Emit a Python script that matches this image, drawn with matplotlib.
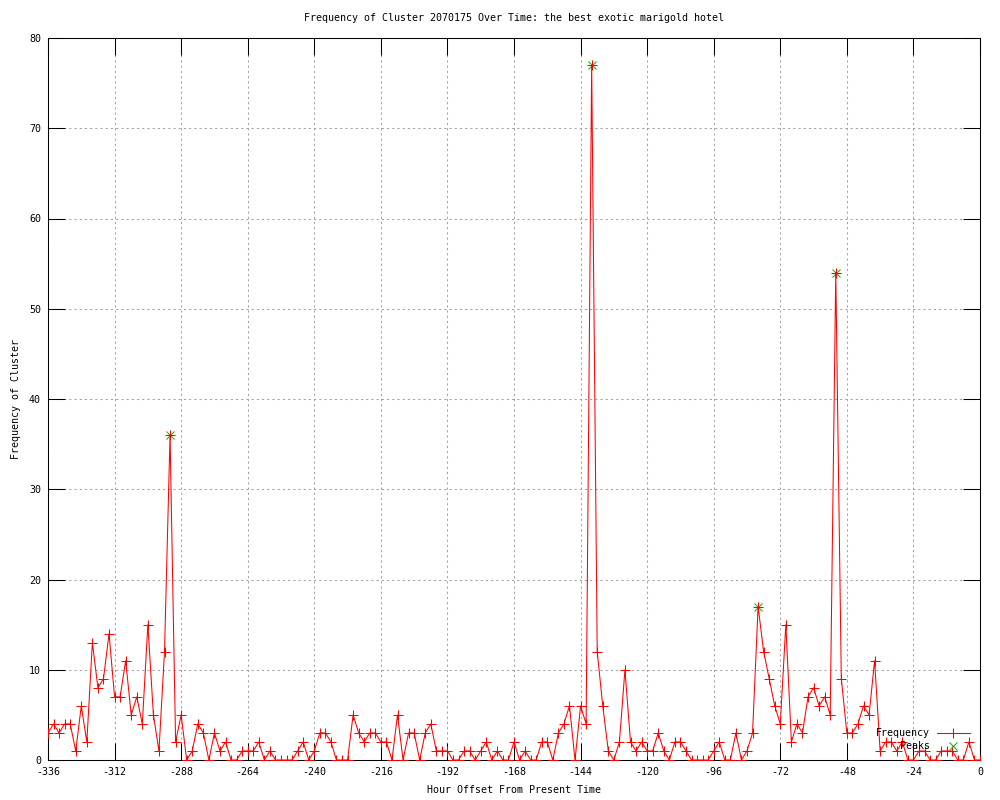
import numpy as np
import matplotlib
matplotlib.use("Agg")
import matplotlib.pyplot as plt

plt.rcParams["axes.unicode_minus"] = False

# ---- data ----
hours = list(range(-336, 1, 2))
frequency = [3, 4, 3, 4, 4, 1, 6, 2, 13, 8, 9, 14, 7, 7, 11, 5, 7, 4, 15, 5,
             1, 12, 36, 2, 5, 0, 1, 4, 3, 0, 3, 1, 2, 0, 0, 1, 1, 1, 2, 0,
             1, 0, 0, 0, 0, 1, 2, 0, 1, 3, 3, 2, 0, 0, 0, 5, 3, 2, 3, 3,
             2, 2, 0, 5, 0, 3, 3, 0, 3, 4, 1, 1, 1, 0, 0, 1, 1, 0, 1, 2,
             0, 1, 0, 0, 2, 0, 1, 0, 0, 2, 2, 0, 3, 4, 6, 0, 6, 4, 77, 12,
             6, 1, 0, 2, 10, 2, 1, 2, 1, 1, 3, 1, 0, 2, 2, 1, 0, 0, 0, 0,
             1, 2, 0, 0, 3, 0, 1, 3, 17, 12, 9, 6, 4, 15, 2, 4, 3, 7, 8, 6,
             7, 5, 54, 9, 3, 3, 4, 6, 5, 11, 1, 2, 2, 1, 2, 0, 0, 1, 1, 0,
             0, 1, 1, 1, 0, 0, 2, 0, 0]
peak_hours = [-292, -140, -80, -52]
peak_values = [36, 77, 17, 54]
xticks = list(range(-336, 1, 24))
yticks = list(range(0, 81, 10))

title = "Frequency of Cluster 2070175 Over Time: the best exotic marigold hotel"
xlabel = "Hour Offset From Present Time"
ylabel = "Frequency of Cluster"

FONT = "DejaVu Sans Mono"
FS = 7.2
RED = "#ff0000"
GREEN = "#00c000"
LW = 0.75

fig = plt.figure(figsize=(10, 8), dpi=100)
ax = fig.add_axes([0.048, 0.05, 0.932, 0.9025])

ax.plot(hours, frequency, color=RED, lw=LW, marker="+", ms=7, mew=LW,
        zorder=3, label="Frequency")
ax.plot(peak_hours, peak_values, ls="none", marker="x", ms=6, mew=LW,
        color=GREEN, zorder=2, label="Peaks")

ax.set_xlim(-336, 0)
ax.set_ylim(0, 80)
ax.set_xticks(xticks)
ax.set_yticks(yticks)
ax.grid(True, color="#a0a0a0", ls=(0, (2, 3)), lw=0.75)
ax.set_axisbelow(True)
ax.tick_params(direction="in", length=12, width=LW, top=True, right=True,
               labelsize=FS, pad=5)
for lab in ax.get_xticklabels() + ax.get_yticklabels():
    lab.set_family(FONT)
for s in ax.spines.values():
    s.set_linewidth(LW)

ax.set_title(title, family=FONT, fontsize=FS, pad=12)
ax.set_xlabel(xlabel, family=FONT, fontsize=FS, labelpad=6)
ax.set_ylabel(ylabel, family=FONT, fontsize=FS, labelpad=6)

# legend (gnuplot style: right-aligned text, sample to the right)
def ac(px, py):
    return ((px - 48) / 932.0, (760 - py) / 722.0)

tx, ty = ac(930, 733)
ax.text(tx, ty, "Frequency", transform=ax.transAxes, ha="right", va="center",
        family=FONT, fontsize=FS, zorder=5)
x0, _ = ac(937, 733)
x1, _ = ac(970, 733)
xm, _ = ac(953, 733)
ax.plot([x0, x1], [ty, ty], color=RED, lw=LW, transform=ax.transAxes,
        clip_on=False, zorder=5)
ax.plot([xm], [ty], color=RED, marker="+", ms=7, mew=LW,
        transform=ax.transAxes, clip_on=False, zorder=5)
tx2, ty2 = ac(930, 746)
ax.text(tx2, ty2, "Peaks", transform=ax.transAxes, ha="right", va="center",
        family=FONT, fontsize=FS, zorder=5)
ax.plot([xm], [ty2], color=GREEN, marker="x", ms=6, mew=LW,
        transform=ax.transAxes, clip_on=False, zorder=5)

fig.savefig("out.png", dpi=100)
